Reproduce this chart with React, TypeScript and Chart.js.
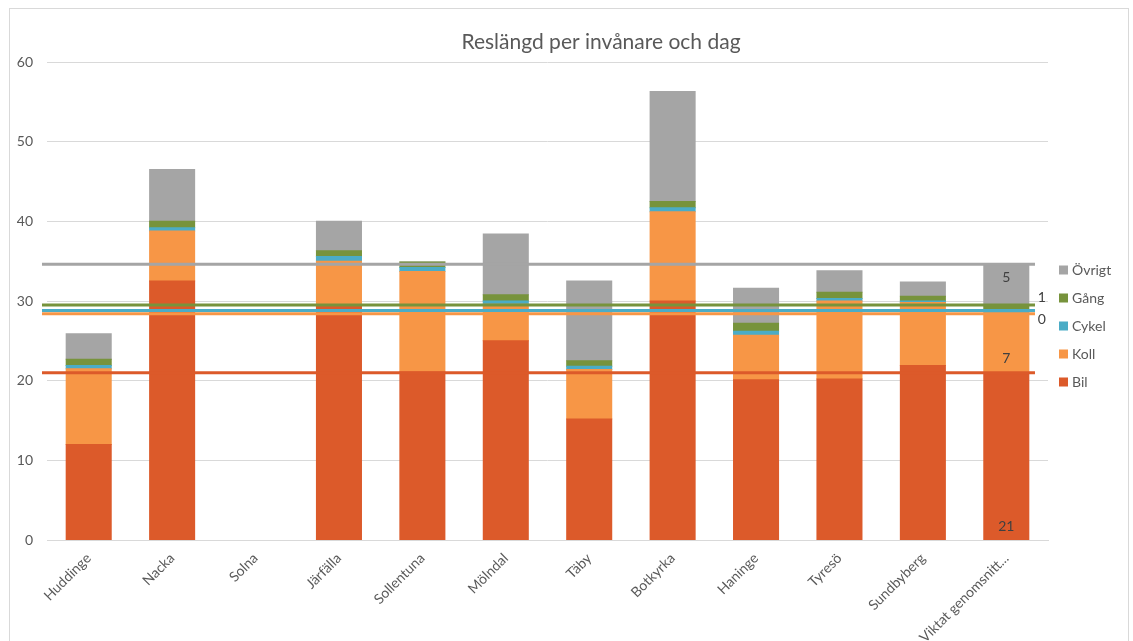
import React, { useEffect, useRef } from 'react';
import { Chart, registerables } from 'chart.js';

Chart.register(...registerables);

// Municipalities plus the weighted average in the last column
const categories = [
  'Huddinge', 'Nacka', 'Solna', 'Järfälla', 'Sollentuna', 'Mölndal',
  'Täby', 'Botkyrka', 'Haninge', 'Tyresö', 'Sundbyberg', 'Viktat genomsnitt...',
];

// Travel length per inhabitant and day, split by mode (Solna has no data)
const bil = [12.0, 32.5, null, 29.3, 21.1, 25.0, 15.2, 30.0, 20.1, 20.2, 21.9, 21.0];
const koll = [9.5, 6.3, null, 5.7, 12.6, 4.6, 6.2, 11.2, 5.6, 9.8, 7.9, 7.4];
const cykel = [0.4, 0.4, null, 0.6, 0.5, 0.4, 0.4, 0.5, 0.5, 0.3, 0.2, 0.4];
const gang = [0.8, 0.8, null, 0.7, 0.7, 0.8, 0.7, 0.8, 1.0, 0.8, 0.6, 0.7];
const ovrigt = [3.2, 6.5, null, 3.7, 0.0, 7.6, 10.0, 13.8, 4.4, 2.7, 1.8, 5.1];

const seriesNames = ['Bil', 'Koll', 'Cykel', 'Gång', 'Övrigt'];
const seriesValues = [bil, koll, cykel, gang, ovrigt];
const seriesColors = ['#DC5A2A', '#F79646', '#4BACC6', '#77933C', '#A5A5A5'];

const yMin = 0;
const yMax = 60;
const yStep = 10;

const TITLE = 'Reslängd per invånare och dag';
const FONT = 'Lato, "Open Sans", sans-serif';
const TEXT_COLOR = '#595959';
const GRID_COLOR = '#D9D9D9';

// Horizontal span of the average reference lines on the hidden 0..1 axis
const LINE_START = -0.005;
const LINE_END = 0.987;

// Where each series' value label sits on the average column
const valueLabelPlacement = [
  { anchor: 'base', dx: 0, dy: -13 },
  { anchor: 'base', dx: 0, dy: -14 },
  { anchor: 'outside', dx: 13, dy: 7 },
  { anchor: 'outside', dx: 13, dy: -10 },
  { anchor: 'center', dx: 0, dy: -7 },
];

// Legend geometry (canvas pixels)
const LEGEND_X = 1049;
const LEGEND_Y = 261;
const LEGEND_STEP = 28;
const LEGEND_BOX = 9;
const LEGEND_GAP = 4;

const titlePlugin = {
  id: 'fixedTitle',
  afterDraw(chart: any) {
    const { ctx } = chart;
    ctx.save();
    ctx.font = `21px ${FONT}`;
    ctx.fillStyle = TEXT_COLOR;
    ctx.textAlign = 'center';
    ctx.textBaseline = 'middle';
    ctx.fillText(TITLE, 591, 33);
    ctx.restore();
  },
};

// Right-hand legend listing the bar series from top (Övrigt) to bottom (Bil)
const sideLegendPlugin = {
  id: 'sideLegend',
  afterDraw(chart: any) {
    const { ctx } = chart;
    const bars = chart.data.datasets
      .map((ds: any, i: number) => ({ ds, i }))
      .filter((d: any) => d.ds.type === 'bar')
      .reverse();
    ctx.save();
    ctx.font = `14px ${FONT}`;
    ctx.textAlign = 'left';
    ctx.textBaseline = 'middle';
    bars.forEach((d: any, k: number) => {
      const cy = LEGEND_Y + k * LEGEND_STEP;
      ctx.fillStyle = d.ds.backgroundColor;
      ctx.fillRect(LEGEND_X, cy - LEGEND_BOX / 2, LEGEND_BOX, LEGEND_BOX);
      ctx.fillStyle = TEXT_COLOR;
      ctx.fillText(d.ds.label, LEGEND_X + LEGEND_BOX + LEGEND_GAP, cy + 0.5);
    });
    ctx.restore();
  },
};

const averageLabelsPlugin = {
  id: 'averageLabels',
  afterDatasetsDraw(chart: any) {
    const { ctx } = chart;
    const last = categories.length - 1;
    ctx.save();
    ctx.font = `14px ${FONT}`;
    ctx.fillStyle = '#404040';
    ctx.textAlign = 'center';
    ctx.textBaseline = 'middle';
    seriesValues.forEach((values, i) => {
      const v = values[last];
      if (v === null || v === undefined) return;
      const el = chart.getDatasetMeta(i).data[last];
      if (!el) return;
      const { x, y, base, width } = el.getProps(['x', 'y', 'base', 'width'], true);
      const p = valueLabelPlacement[i];
      let px = x;
      let py = (y + base) / 2;
      if (p.anchor === 'base') py = base;
      if (p.anchor === 'outside') px = x + width / 2;
      ctx.fillText(String(Math.round(v)), px + p.dx, py + p.dy);
    });
    ctx.restore();
  },
};

export default function App() {
  const canvasRef = useRef<HTMLCanvasElement | null>(null);

  useEffect(() => {
    const canvas = canvasRef.current;
    if (!canvas) return;
    const last = categories.length - 1;

    const barSets = seriesNames.map((name, i) => ({
      type: 'bar' as const,
      label: name,
      data: seriesValues[i],
      backgroundColor: seriesColors[i],
      borderWidth: 0,
      inflateAmount: 0.5,
      categoryPercentage: 1,
      barPercentage: 0.54,
      grouped: false,
      stack: 'modes',
      xAxisID: 'x',
      yAxisID: 'y',
      order: 1,
    }));

    // Average levels: stacked lines, one per mode, taken from the last column
    const lineSets = seriesNames.map((name, i) => ({
      type: 'line' as const,
      label: name + ' (snitt)',
      data: [
        { x: LINE_START, y: seriesValues[i][last] },
        { x: LINE_END, y: seriesValues[i][last] },
      ],
      borderColor: seriesColors[i],
      borderWidth: 3,
      pointRadius: 0,
      fill: false,
      clip: false as any,
      stack: 'average',
      xAxisID: 'xLine',
      yAxisID: 'y',
      order: 0,
    }));

    const chart = new Chart(canvas, {
      data: {
        labels: categories,
        datasets: [...barSets, ...lineSets] as any,
      },
      options: {
        responsive: false,
        animation: false,
        devicePixelRatio: 1,
        layout: { padding: { top: 53, left: 0, right: 80, bottom: 0 } },
        plugins: {
          title: { display: false },
          tooltip: { enabled: false },
          legend: { display: false },
        },
        scales: {
          x: {
            type: 'category',
            stacked: true,
            offset: true,
            grid: { display: false, drawTicks: false },
            border: { display: true, color: GRID_COLOR, width: 1 },
            ticks: {
              color: TEXT_COLOR,
              font: { family: FONT, size: 14 },
              minRotation: 45,
              maxRotation: 45,
              autoSkip: false,
              padding: 10,
            },
            afterFit: (s: any) => { s.height = 107; },
          },
          xLine: {
            type: 'linear',
            display: false,
            offset: false,
            min: 0,
            max: 1,
          },
          y: {
            stacked: true,
            min: yMin,
            max: yMax,
            grid: { color: GRID_COLOR, lineWidth: 1, drawTicks: false },
            border: { display: false },
            ticks: {
              stepSize: yStep,
              color: TEXT_COLOR,
              font: { family: FONT, size: 14 },
              padding: 14,
            },
            afterFit: (s: any) => { s.width = 37; },
          },
        },
      } as any,
      plugins: [titlePlugin, sideLegendPlugin, averageLabelsPlugin],
    });

    return () => chart.destroy();
  }, []);

  return (
    <div
      style={{
        position: 'fixed',
        left: 9,
        top: 8,
        width: 1120,
        height: 640,
        boxSizing: 'border-box',
        border: `1px solid ${GRID_COLOR}`,
        background: '#ffffff',
      }}
    >
      <canvas ref={canvasRef} width={1118} height={638} style={{ display: 'block' }} />
    </div>
  );
}
